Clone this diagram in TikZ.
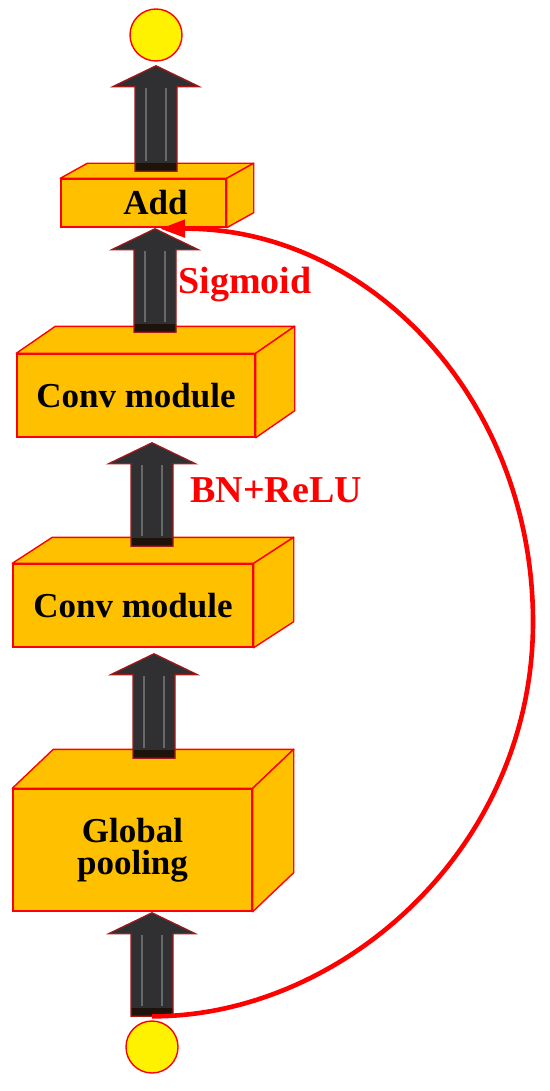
\documentclass[tikz,border=0pt]{standalone}
\usepackage{fontspec}
\setmainfont{Liberation Serif}
\usetikzlibrary{arrows.meta,calc}
\definecolor{boxorange}{RGB}{255,192,0}
\definecolor{blockgray}{RGB}{48,48,50}
\definecolor{arrowedge}{RGB}{165,25,25}
\definecolor{edgered}{RGB}{255,0,0}
\begin{document}
\begin{tikzpicture}[x=0.5pt, y=-0.5pt,
  front/.style={rectangle, draw=edgered, fill=boxorange, line width=0.7pt, inner sep=0pt,
                align=center, font=\fontsize{17.5}{16}\selectfont\bfseries},
  face/.style={draw=edgered, fill=boxorange, line width=0.7pt, line join=round},
  io/.style={circle, draw=edgered, fill=yellow, line width=0.7pt, minimum size=26pt, inner sep=0pt},
  barrow/.style={draw=arrowedge, fill=blockgray, line width=0.6pt, line join=miter,
                 path picture={
                   \fill[black!85!brown] (path picture bounding box.south west) rectangle ([yshift=4pt]path picture bounding box.south east);
                   \foreach \s in {-5pt,5pt}
                     \draw[gray!70!blockgray, line width=1.1pt]
                       ([xshift=\s,yshift=5pt]path picture bounding box.south) -- ([xshift=\s,yshift=-11pt]path picture bounding box.north);
                 },
                 to path={let \p1=(\tikztostart), \p2=(\tikztotarget) in
                   (\x1-10.5pt,\y1) -- (\x1-10.5pt,\y2-10.5pt) -- (\x1-21.75pt,\y2-10.5pt) -- (\x1,\y2)
                   -- (\x1+21.75pt,\y2-10.5pt) -- (\x1+10.5pt,\y2-10.5pt) -- (\x1+10.5pt,\y1) -- cycle}},
  residual/.style={-{Triangle[length=12.5pt,width=8.5pt]}, draw=edgered, line width=2.3pt},
  lab/.style={text=edgered, font=\fontsize{19}{22}\selectfont\bfseries, anchor=base west, inner sep=0pt},
]
\useasboundingbox (0,0) rectangle (550,1091);
\node[front, minimum width=82.5pt, minimum height=24pt,
      label={[font=\fontsize{17.5}{16}\selectfont\bfseries, xshift=6pt]center:Add}] (add) at (143.5,203) {};
\node[front, minimum width=119pt, minimum height=41.5pt] (c1) at (136,395.5) {Conv module};
\node[front, minimum width=120pt, minimum height=41.5pt] (c2) at (133,605.5) {Conv module};
\node[front, minimum width=119.5pt, minimum height=61pt] (gp) at (132.5,850) {Global\\pooling};
\foreach \b/\dx/\dy in {add/27/15, c1/39/27, c2/40/26, gp/41/39}{
  \draw[face] (\b.north west) -- ++(\dx,-\dy) -- ($(\b.north east)+(\dx,-\dy)$) -- (\b.north east) -- cycle;
  \draw[face] (\b.north east) -- ++(\dx,-\dy) -- ($(\b.south east)+(\dx,-\dy)$) -- (\b.south east) -- cycle;
}
\node[io] (outp) at (156,35) {};
\node[io] (inp) at (152,1047) {};
\draw[barrow] ([xshift=6.25pt,yshift=3.5pt]add.north) to ([yshift=-2pt]outp.south);
\draw[barrow] ([xshift=9.5pt,yshift=10.5pt]c1.north) to ([yshift=-0.5pt]add.south);
\draw[barrow] ([xshift=9.5pt,yshift=8.5pt]c2.north) to ([yshift=-2.5pt]c1.south);
\draw[barrow] ([xshift=10.75pt,yshift=15pt]gp.north) to ([yshift=-3pt]c2.south);
\draw[barrow] ([yshift=2pt]inp.north) to ([yshift=-0.5pt]gp.south);
\draw[residual] ([yshift=2pt]inp.north) .. controls (340,1017) and (533,850) .. (533,622)
  .. controls (533,400) and (370,228) .. ([xshift=8.25pt,yshift=-0.5pt]add.south);
\node[lab] (sig) at (178,293) {Sigmoid};
\node[lab] (bnr) at (190,502) {BN+ReLU};
\end{tikzpicture}
\end{document}
